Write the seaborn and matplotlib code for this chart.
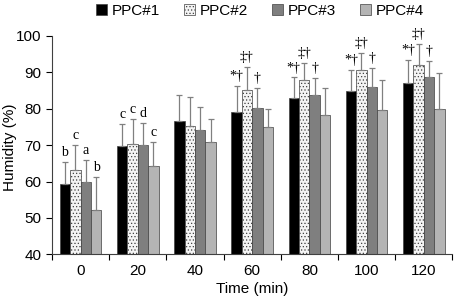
import numpy as np
import pandas as pd
import matplotlib
matplotlib.use('Agg')
import matplotlib.pyplot as plt
import seaborn as sns

times = ['0', '20', '40', '60', '80', '100', '120']
series = ['PPC#1', 'PPC#2', 'PPC#3', 'PPC#4']

ppc1 = [59.2, 69.8, 76.7, 79.2, 82.9, 84.8, 87.0]
ppc2 = [63.1, 70.4, 75.3, 85.2, 87.9, 90.7, 91.9]
ppc3 = [59.9, 70.1, 74.2, 80.3, 83.7, 86.1, 88.7]
ppc4 = [52.1, 64.4, 70.9, 75.1, 78.2, 79.7, 79.9]

# upper end of the error bars
ppc1_err = [65.5, 75.7, 83.8, 86.3, 88.6, 90.7, 93.5]
ppc2_err = [70.0, 77.3, 83.1, 91.6, 92.5, 95.3, 97.7]
ppc3_err = [66.0, 76.1, 80.4, 85.6, 88.4, 91.2, 93.1]
ppc4_err = [61.2, 71.0, 77.2, 79.9, 85.8, 87.8, 89.9]

# significance labels above each bar
marks1 = ['b', 'c', '', '*†', '*†', '*†', '*†']
marks2 = ['c', 'c', '', '‡†', '‡†', '‡†', '‡†']
marks3 = ['a', 'd', '', '†', '†', '†', '†']
marks4 = ['b', 'c', '', '', '', '', '']

vals = [ppc1, ppc2, ppc3, ppc4]
errs = [ppc1_err, ppc2_err, ppc3_err, ppc4_err]
marks = [marks1, marks2, marks3, marks4]

rows = []
for s, v in zip(series, vals):
    for t, y in zip(times, v):
        rows.append({'time': t, 'series': s, 'humidity': y})
df = pd.DataFrame(rows)

plt.rcParams['font.family'] = ['Liberation Sans', 'DejaVu Sans']
plt.rcParams['hatch.color'] = '#b0b0b0'
plt.rcParams['hatch.linewidth'] = 0.5

fig = plt.figure(figsize=(4.54, 2.97), dpi=100)
ax = fig.add_axes([0.1145, 0.1438, 0.882, 0.735])

face = ['#000000', '#f4f4f4', '#7f7f7f', '#b4b4b4']
hatches = ['', '.....', '', '']

sns.barplot(data=df, x='time', y='humidity', hue='series', order=times,
            hue_order=series, width=0.73, ax=ax, errorbar=None,
            palette=face, saturation=1, legend=True)

bars = list(ax.containers)
for i, cont in enumerate(bars):
    for j, p in enumerate(cont.patches):
        p.set_facecolor(face[i])
        p.set_edgecolor('#404040')
        p.set_linewidth(0.5)
        if hatches[i]:
            p.set_hatch(hatches[i])
        x = p.get_x() + p.get_width() / 2
        top = p.get_height()
        ax.errorbar(x, top, yerr=[[0], [errs[i][j] - top]], color='#808080',
                    lw=0.9, capsize=2.5, capthick=0.9, zorder=1)
        if marks[i][j]:
            fam = ['Liberation Serif', 'DejaVu Serif']
            ax.text(x, errs[i][j] + 0.8, marks[i][j], ha='center', va='bottom',
                    fontsize=10, family=fam)

ax.set_ylim(40, 100)
ax.set_yticks([40, 50, 60, 70, 80, 90, 100])
ax.set_xlim(-0.5, 6.5)
ax.set_xlabel('Time (min)', fontsize=11, labelpad=3)
ax.set_ylabel('Humidity (%)', fontsize=11)
ax.yaxis.set_label_coords(-0.088, 0.49)
ax.tick_params(axis='y', labelsize=11, direction='out', length=4, width=0.8)
ax.tick_params(axis='x', labelsize=11, length=0, pad=7)
ax.set_xticks(np.arange(-0.5, 7.0, 1.0), minor=True)
ax.tick_params(axis='x', which='minor', direction='out', length=4, width=0.8)
for side in ['top', 'right']:
    ax.spines[side].set_visible(False)
for side in ['left', 'bottom']:
    ax.spines[side].set_linewidth(0.8)
    ax.spines[side].set_color('#404040')

leg = ax.legend(loc='center', bbox_to_anchor=(0.52, 1.115), ncol=4,
                frameon=False, fontsize=11, handlelength=0.7,
                handleheight=0.7, handletextpad=0.3, columnspacing=1.6)
for h, i in zip(leg.legend_handles, range(4)):
    h.set_facecolor(face[i])
    h.set_edgecolor('#404040')
    h.set_linewidth(0.5)
    if hatches[i]:
        h.set_hatch(hatches[i])

fig.savefig('out.png', dpi=100)
